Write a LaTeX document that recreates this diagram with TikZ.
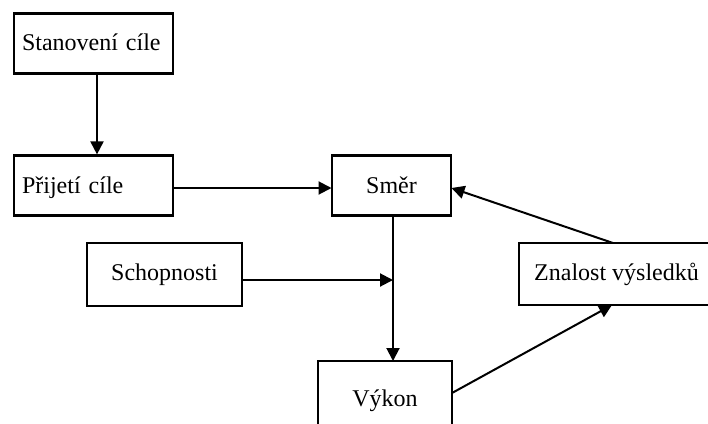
\documentclass[tikz,border=0pt]{standalone}
\usepackage{fontspec}
\setmainfont{Liberation Serif}
\usetikzlibrary{arrows.meta,calc}
\begin{document}
\begin{tikzpicture}[x=1pt,y=-1pt,
  box/.style={draw=black,line width=2.2pt,rectangle,inner sep=0pt,font=\fontsize{24}{28}\selectfont},
  conn/.style={line width=2pt,-{Triangle[length=13pt,width=13pt]}}]
\useasboundingbox (0,0) rectangle (708,423);
\clip (0,0) rectangle (708,423);
\node[box,minimum width=159pt,minimum height=60pt,text width=143pt,align=left,text depth=2pt] (stan) at (93.5,43.5) {Stanovení cíle};
\node[box,minimum width=159pt,minimum height=60pt,text width=143pt,align=left,text depth=0pt] (prij) at (93.5,185.5) {Přijetí cíle};
\node[box,minimum width=119pt,minimum height=60pt] (smer) at (391.5,185.5) {Směr};
\node[box,minimum width=155pt,minimum height=63pt] (schop) at (164.5,274.5) {Schopnosti};
\node[box,minimum width=134pt,minimum height=80pt] (vykon) at (385,401) {Výkon};
\node[box,minimum width=195pt,minimum height=62pt] (znal) at (616.5,274) {Znalost výsledků};
\coordinate (smerout) at (393,215.5);
\coordinate (vyin) at (393,361);
\coordinate (join) at (393,280);
\coordinate (znaltop) at (613,243);
\coordinate (znalbot) at (612,305);
\coordinate (vyout) at (452,393);
\coordinate (smerin) at (451.5,188);
\coordinate (prijout) at (173.5,188);
\coordinate (smerleft) at (331.5,188);
\coordinate (schopout) at (242,280);
\draw[conn] (stan.south -| 97,0) -- (prij.north -| 97,0);
\draw[conn] (prijout) -- (smerleft);
\draw[conn] (smerout) -- (vyin);
\draw[conn] (schopout) -- (join);
\draw[conn] (znaltop) -- (smerin);
\draw[conn] (vyout) -- (znalbot);
\end{tikzpicture}
\end{document}
